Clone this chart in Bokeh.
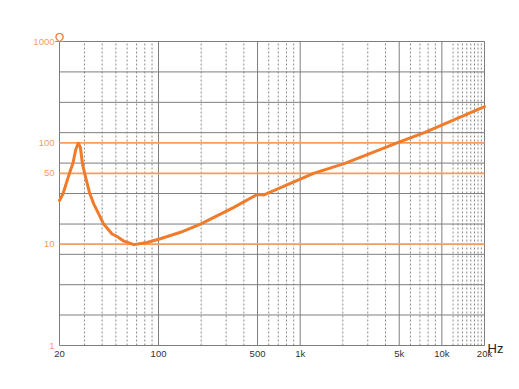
from bokeh.plotting import figure
from bokeh.core.properties import value
from bokeh.embed import file_html
from bokeh.resources import INLINE

# Impedance curve
freq_hz = [20, 21.2, 23.5, 24.9, 26.0, 27.1, 28.1, 29.0, 30.1, 32.7, 34.9, 41, 47, 51, 57,
           67, 83, 103, 143, 198, 340, 494, 520, 555, 1242, 2090, 4830, 7600, 20000]
impedance_ohm = [27, 31.6, 50, 63, 85, 99, 90, 63, 50, 31.6, 25, 15.8, 12.6, 11.9, 10.7,
                 9.9, 10.4, 11.3, 13.1, 15.8, 23.1, 30.8, 30.9, 30.6, 50, 63, 100, 127, 228]

# Grid / reference values
x_major = [20, 100, 500, 1000, 5000, 10000, 20000]
x_major_labels = ["20", "100", "500", "1k", "5k", "10k", "20k"]
x_minor = [30, 40, 50, 60, 70, 80, 90, 200, 300, 400, 600, 700, 800, 900,
           2000, 3000, 4000, 6000, 7000, 8000, 9000,
           12000, 13000, 14000, 15000, 16000, 17000, 18000, 19000]
y_grid = [1000, 501, 251, 126, 63.1, 31.6, 15.8, 7.94, 3.98, 2.0, 1]
y_ref = [10, 50, 100]
y_ticks = [1, 10, 50, 100, 1000]
y_tick_labels = ["1", "10", "50", "100", "1000"]

X_MIN, X_MAX = 20, 20000
Y_MIN, Y_MAX = 1, 1000

ORANGE = "#f07b2a"
ORANGE_LIGHT = "#f39e5e"
GREY = "#7d7d7d"
GREY_DASH = "#8a8a8a"
FONT = value("Liberation Sans")

# Grid area: 425 px for 3 decades horizontally, 304 px for 3 decades vertically.
# The canvas extends beyond it so that labels can sit outside the grid.
px_per_dec_x = 425 / 3.0
px_per_dec_y = 304 / 3.0
grid_left, grid_right, grid_top, grid_bottom = 59, 484, 41, 345
W, H = 519, 389
x_lo = X_MIN / 10 ** (grid_left / px_per_dec_x)
x_hi = X_MAX * 10 ** ((W - grid_right) / px_per_dec_x)
y_hi = Y_MAX * 10 ** (grid_top / px_per_dec_y)
y_lo = Y_MIN / 10 ** ((H - grid_bottom) / px_per_dec_y)

p = figure(width=W, height=H, x_axis_type="log", y_axis_type="log",
           x_range=(x_lo, x_hi), y_range=(y_lo, y_hi),
           output_backend="svg", toolbar_location=None, min_border=0)
p.background_fill_color = "white"
p.border_fill_color = "white"
p.outline_line_color = None
p.xgrid.visible = False
p.ygrid.visible = False
p.axis.visible = False

n_min = len(x_minor)
n_maj = len(x_major)
n_y = len(y_grid)
# vertical dashed lines
p.segment(x0=x_minor, x1=x_minor, y0=[Y_MIN] * n_min, y1=[Y_MAX] * n_min,
          line_color=GREY_DASH, line_width=1, line_dash="2 2")
# vertical solid lines
p.segment(x0=x_major, x1=x_major, y0=[Y_MIN] * n_maj, y1=[Y_MAX] * n_maj,
          line_color=GREY, line_width=1)
# horizontal grey lines
p.segment(x0=[X_MIN] * n_y, x1=[X_MAX] * n_y, y0=y_grid, y1=y_grid,
          line_color=GREY, line_width=1)
# orange reference lines
p.segment(x0=[X_MIN] * len(y_ref), x1=[X_MAX] * len(y_ref), y0=y_ref, y1=y_ref,
          line_color=ORANGE_LIGHT, line_width=1.6)
# impedance curve
p.line(freq_hz, impedance_ohm, line_color=ORANGE, line_width=3,
       line_join="round", line_cap="round")

# tick labels
p.text(x=x_major, y=[Y_MIN] * n_maj, text=x_major_labels, text_font=FONT,
       text_font_size="9.5px", text_color="#333333", text_align="center",
       text_baseline="alphabetic", y_offset=8)
p.text(x=[X_MIN] * len(y_ticks), y=y_ticks, text=y_tick_labels, text_font=FONT,
       text_font_size="9.5px", text_color=ORANGE_LIGHT, text_align="right",
       text_baseline="alphabetic", x_offset=-5, y_offset=0)
# unit labels
p.text(x=[X_MIN], y=[Y_MAX], text=["Ω"], text_font=FONT, text_font_size="13px",
       text_color=ORANGE, text_align="center", text_baseline="alphabetic", y_offset=-4)
p.text(x=[X_MAX], y=[Y_MIN], text=["Hz"], text_font=FONT, text_font_size="13px",
       text_color="#222222", text_align="left", text_baseline="alphabetic",
       x_offset=3, y_offset=3)

open("out.html", "w").write(file_html(p, INLINE))
